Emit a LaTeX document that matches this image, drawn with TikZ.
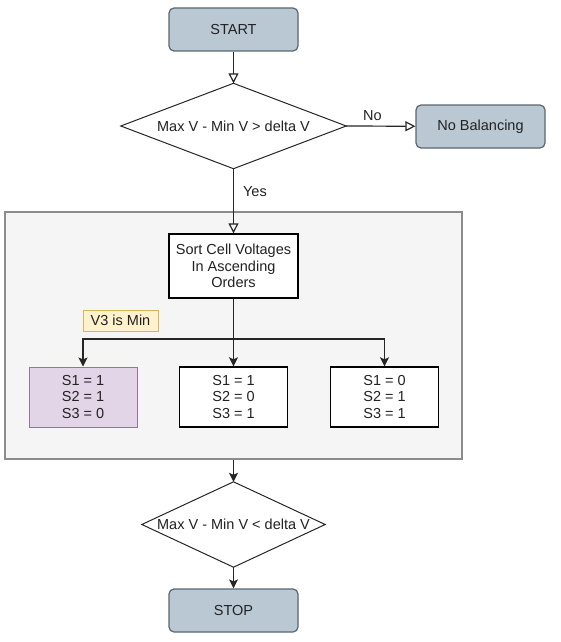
\documentclass[tikz,border=0pt]{standalone}
\usepackage{fontspec}
\setmainfont{Liberation Sans}
\usetikzlibrary{shapes.geometric,arrows.meta}
\definecolor{termfill}{HTML}{BAC8D3}
\definecolor{termdraw}{HTML}{5A6670}
\definecolor{grpfill}{HTML}{F5F5F5}
\definecolor{grpdraw}{HTML}{8C8C8C}
\definecolor{purfill}{HTML}{E1D5E7}
\definecolor{purdraw}{HTML}{9673A6}
\definecolor{yelfill}{HTML}{FFF2CC}
\definecolor{yeldraw}{HTML}{D6B656}
\definecolor{txt}{HTML}{222222}
\tikzset{
  base/.style={font=\fontsize{14.5}{16.5}\selectfont, text=txt, align=center, inner sep=0pt},
  term/.style={base, rectangle, rounded corners=5pt, draw=termdraw, fill=termfill, line width=1.2pt, minimum width=129pt, minimum height=43pt},
  decide/.style={base, rectangle},
  diamondline/.style={draw=black!85, fill=white, line width=1pt, line join=miter},
  proc/.style={base, rectangle, draw=black, fill=white, line width=1.4pt, minimum width=108pt, minimum height=60pt},
  conn/.style={draw=black!85, line width=1.2pt},
  openarr/.style={conn, -{Triangle[open, length=10pt, width=10pt]}},
  fillarr/.style={conn, -{Stealth[length=9pt, width=9pt, inset=2pt]}},
  lbl/.style={font=\fontsize{14.5}{16.5}\selectfont, text=txt, inner sep=0pt}
}
\begin{document}
\begin{tikzpicture}[x=1pt, y=-1pt]
\useasboundingbox (0,0) rectangle (560,642);
% group background
\node[rectangle, draw=grpdraw, fill=grpfill, line width=1.2pt, minimum width=457pt, minimum height=247pt, inner sep=0pt] (grp) at (233.5,335.5) {};
\node[term] (start) at (233.5,29.5) {START};
% decision 1 (diamond drawn from its bounding node)
\node[decide, minimum width=225pt, minimum height=85pt] (d1) at (233.5,126) {};
\draw[diamondline] (d1.north) -- (d1.east) -- (d1.south) -- (d1.west) -- cycle;
\node[base] at (d1.center) {Max V - Min V > delta V};
\node[term] (nobal) at (480.5,126.5) {No Balancing};
\node[proc, minimum width=129pt, minimum height=64pt] (sort) at (233.5,266) {Sort Cell Voltages\\In Ascending\\Orders};
\node[base, rectangle, draw=yeldraw, fill=yelfill, line width=1pt, minimum width=75pt, minimum height=21pt] (v3) at (120.5,320.5) {V3 is Min};
\node[proc, draw=purdraw, fill=purfill, line width=1pt] (b1) at (83,397) {S1 = 1\\S2 = 1\\S3 = 0};
\node[proc] (b2) at (233.5,397) {S1 = 1\\S2 = 0\\S3 = 1};
\node[proc] (b3) at (384.5,397) {S1 = 0\\S2 = 1\\S3 = 1};
% decision 2
\node[decide, minimum width=183pt, minimum height=85pt] (d2) at (233.5,524.5) {};
\draw[diamondline] (d2.north) -- (d2.east) -- (d2.south) -- (d2.west) -- cycle;
\node[base] at (d2.center) {Max V - Min V < delta V};
\node[term] (stop) at (233.5,610.5) {STOP};
\coordinate (j) at (233.5,339);
% connectors
\draw[openarr] (start) -- (d1.north);
\draw[openarr] (d1.east) -- node[lbl, above=5pt, pos=0.38] {No} (nobal);
\draw[openarr] (d1.south) -- node[lbl, right=9pt, pos=0.36] {Yes} (sort);
\draw[conn] (sort) -- (j);
\draw[fillarr] (j) -| (b1);
\draw[fillarr] (j) -- (b2);
\draw[fillarr] (j) -| (b3);
\draw[fillarr] (grp.south) -- (d2.north);
\draw[fillarr] (d2.south) -- (stop);
\end{tikzpicture}
\end{document}
